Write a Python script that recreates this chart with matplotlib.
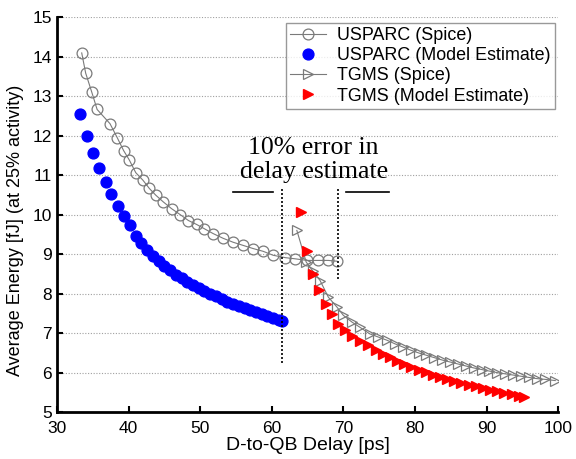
import numpy as np
import matplotlib
matplotlib.use("Agg")
import matplotlib.pyplot as plt

plt.rcParams['font.family'] = ['Liberation Sans', 'DejaVu Sans']

# USPARC (Spice)
us_sp_x = [33.45, 34.0, 34.85, 35.6, 37.4, 38.4, 39.3, 40.1, 41.0, 42.0, 42.9, 43.8, 44.85, 46.0,
           47.2, 48.35, 49.5, 50.6, 51.8, 53.2, 54.6, 56.0, 57.4, 58.8, 60.2, 61.9, 63.3, 64.9,
           66.5, 67.9, 69.1]
us_sp_y = [14.09, 13.58, 13.10, 12.66, 12.30, 11.95, 11.62, 11.38, 11.06, 10.87, 10.66, 10.49, 10.32,
           10.15, 10.00, 9.85, 9.75, 9.64, 9.52, 9.40, 9.30, 9.22, 9.14, 9.07, 8.97, 8.91, 8.88,
           8.84, 8.84, 8.84, 8.82]

# USPARC (Model Estimate)
us_me_x = [33.2, 34.15, 35.05, 35.9, 36.8, 37.6, 38.5, 39.4, 40.2, 41.0, 41.8, 42.6, 43.4, 44.2,
           45.0, 45.8, 46.6, 47.4, 48.2, 49.0, 49.8, 50.6, 51.4, 52.2, 53.0, 53.8, 54.6, 55.4,
           56.2, 57.0, 57.8, 58.6, 59.4, 60.2, 61.0, 61.4]
us_me_y = [12.55, 12.00, 11.57, 11.17, 10.82, 10.51, 10.21, 9.97, 9.73, 9.47, 9.27, 9.10, 8.95, 8.82,
           8.70, 8.59, 8.48, 8.39, 8.30, 8.22, 8.14, 8.07, 8.00, 7.93, 7.86, 7.80, 7.74, 7.69,
           7.64, 7.59, 7.54, 7.49, 7.44, 7.39, 7.34, 7.30]

# TGMS (Spice)
tg_sp_x = [63.5, 64.8, 65.7, 66.75, 67.9, 69.1, 70.0, 71.2, 72.3, 73.7, 74.9, 76.1, 77.2, 78.3,
           79.4, 80.5, 81.6, 82.7, 83.8, 84.9, 86.0, 87.1, 88.2, 89.3, 90.4, 91.5, 92.6, 93.7,
           94.8, 95.9, 97.0, 98.2, 99.6]
tg_sp_y = [9.60, 8.80, 8.58, 8.33, 7.91, 7.66, 7.45, 7.28, 7.15, 6.98, 6.90, 6.82, 6.73, 6.65,
           6.57, 6.50, 6.44, 6.38, 6.32, 6.27, 6.22, 6.17, 6.12, 6.08, 6.04, 6.00, 5.97, 5.94,
           5.91, 5.88, 5.85, 5.83, 5.80]

# TGMS (Model Estimate)
tg_me_x = [64.05, 64.9, 65.8, 66.65, 67.6, 68.4, 69.3, 70.2, 71.2, 72.3, 73.5, 74.5, 75.5, 76.5,
           77.5, 78.5, 79.5, 80.5, 81.5, 82.5, 83.5, 84.5, 85.5, 86.5, 87.5, 88.5, 89.5, 90.5,
           91.5, 92.5, 93.5, 94.5, 95.2]
tg_me_y = [10.06, 9.09, 8.50, 8.08, 7.74, 7.49, 7.24, 7.07, 6.94, 6.81, 6.69, 6.58, 6.48, 6.39,
           6.30, 6.22, 6.15, 6.08, 6.01, 5.95, 5.89, 5.84, 5.79, 5.74, 5.70, 5.65, 5.61, 5.57,
           5.53, 5.49, 5.46, 5.42, 5.38]

fig = plt.figure(figsize=(5.76, 4.59), dpi=100)
ax = fig.add_axes([0.099, 0.102, 0.870, 0.861])

gray = '#7a7a7a'
ax.plot(us_sp_x, us_sp_y, '-o', color=gray, lw=0.8, ms=7.8, mfc='none', mec=gray, mew=0.9,
        label='USPARC (Spice)', zorder=3)
ax.plot(us_me_x, us_me_y, 'o', color='#0000ff', ms=7.8, mec='#0000ff', ls='none',
        label='USPARC (Model Estimate)', zorder=4)
ax.plot(tg_sp_x, tg_sp_y, '->', color=gray, lw=0.8, ms=7.8, mfc='none', mec=gray, mew=0.9,
        label='TGMS (Spice)', zorder=3)
ax.plot(tg_me_x, tg_me_y, '>', color='#ff0000', ms=7.8, mec='#ff0000', ls='none',
        label='TGMS (Model Estimate)', zorder=4)

# 10% error markers
ax.plot([61.45, 61.45], [6.25, 10.7], color='black', ls=(0, (1.2, 1.2)), lw=1.2, zorder=5)
ax.plot([69.2, 69.2], [8.38, 10.66], color='black', ls=(0, (1.2, 1.2)), lw=1.2, zorder=5)
ax.plot([54.6, 60.2], [10.57, 10.57], color='black', lw=1.2, zorder=5)
ax.plot([70.4, 76.4], [10.57, 10.57], color='black', lw=1.2, zorder=5)
ax.text(65.85, 11.37, '10% error in\ndelay estimate', family=['Liberation Serif', 'DejaVu Serif'],
        fontsize=18.5, ha='center', va='center', linespacing=1.12, zorder=6)

ax.set_xlim(30, 100)
ax.set_ylim(5, 15)
ax.set_xticks(range(30, 101, 10))
ax.set_yticks(range(5, 16))
ax.yaxis.grid(True, color='#a0a0a0', ls=(0, (1, 1.5)), lw=0.8)
ax.set_axisbelow(True)
for s in ['top', 'right']:
    ax.spines[s].set_visible(False)
for s in ['left', 'bottom']:
    ax.spines[s].set_linewidth(2)
ax.tick_params(direction='in', length=4, width=1.5, labelsize=12.5)
ax.tick_params(axis='x', pad=6)
ax.set_xlabel('D-to-QB Delay [ps]', fontsize=14, labelpad=1)
ax.set_ylabel('Average Energy [fJ] (at 25% activity)', fontsize=13, labelpad=4)
ax.yaxis.set_label_coords(-0.065, 0.46)

leg = ax.legend(loc='upper right', bbox_to_anchor=(0.993, 0.985), fontsize=12.9, frameon=True,
                fancybox=False, edgecolor='#808080', handlelength=2.0, handletextpad=0.6,
                labelspacing=0.17, borderpad=0.25, borderaxespad=0)
leg.get_frame().set_linewidth(1.0)

fig.savefig('out.png', dpi=100)
